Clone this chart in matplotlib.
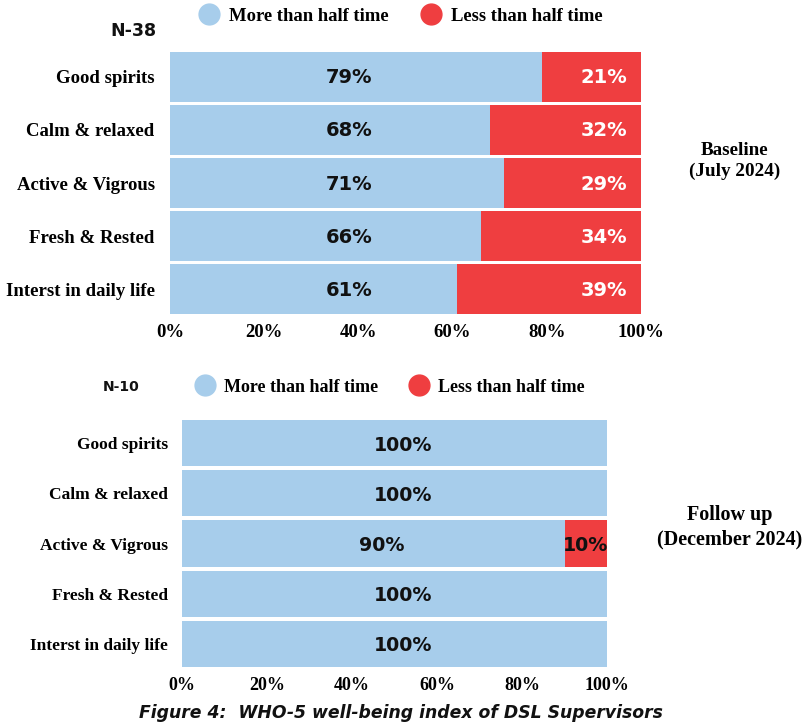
import matplotlib
matplotlib.use("Agg")
import matplotlib.pyplot as plt
from matplotlib.lines import Line2D

# WHO-5 items and survey results
items = ["Good spirits", "Calm & relaxed", "Active & Vigrous", "Fresh & Rested", "Interst in daily life"]
baseline_more = [79, 68, 71, 66, 61]
baseline_less = [21, 32, 29, 34, 39]
followup_more = [100, 100, 90, 100, 100]
followup_less = [0, 0, 10, 0, 0]
xticks = [0, 20, 40, 60, 80, 100]
xtick_labels = ["0%", "20%", "40%", "60%", "80%", "100%"]
series_names = ["More than half time", "Less than half time"]

BLUE = "#A7CDEB"
RED = "#EF3E40"
SERIF = "Liberation Serif"
SANS = "DejaVu Sans"

W, H = 809, 725
fig = plt.figure(figsize=(W / 100, H / 100), dpi=100)


def px_axes(left, top, right, bottom):
    return fig.add_axes([left / W, 1 - bottom / H, (right - left) / W, (bottom - top) / H])


def style_axes(ax, label_size, tick_size, pad):
    ax.set_xlim(0, 100)
    ax.set_ylim(len(items) - 0.5, -0.5)
    ax.set_yticks(range(len(items)))
    ax.set_yticklabels(items, fontfamily=SERIF, fontweight="bold", fontsize=label_size)
    ax.set_xticks(xticks)
    ax.set_xticklabels(xtick_labels, fontfamily=SERIF, fontweight="bold", fontsize=tick_size)
    ax.tick_params(axis="y", length=0, pad=pad)
    ax.tick_params(axis="x", length=0, pad=6)
    for s in ax.spines.values():
        s.set_visible(False)


# ---- Baseline panel ----
ax1 = px_axes(170, 50, 641, 316)
ys = range(len(items))
ax1.barh(ys, baseline_more, height=0.94, color=BLUE)
ax1.barh(ys, baseline_less, left=baseline_more, height=0.94, color=RED)
style_axes(ax1, 13.5, 13.5, 11)
for y, m, l in zip(ys, baseline_more, baseline_less):
    ax1.text(38, y + 0.02, f"{m}%", ha="center", va="center", fontfamily=SANS,
             fontweight="bold", fontsize=14, color="#111111")
    ax1.text(97, y + 0.02, f"{l}%", ha="right", va="center", fontfamily=SANS,
             fontweight="bold", fontsize=14, color="white")

# ---- Follow-up panel ----
ax2 = px_axes(182, 418, 607, 669)
ax2.barh(ys, followup_more, height=0.92, color=BLUE)
ax2.barh(ys, followup_less, left=followup_more, height=0.92, color=RED)
style_axes(ax2, 12.5, 13, 10)
for y, m, l in zip(ys, followup_more, followup_less):
    ax2.text(m / 2 + 2, y + 0.04, f"{m}%", ha="center", va="center", fontfamily=SANS,
             fontweight="bold", fontsize=13.7, color="#111111")
    if l > 0:
        ax2.text(m + l / 2, y + 0.04, f"{l}%", ha="center", va="center", fontfamily=SANS,
                 fontweight="bold", fontsize=13.7, color="#111111")


# ---- Legends, sample sizes and panel notes ----
def legend_at(x_px, y_px, size, textpad, colspace):
    handles = [Line2D([], [], marker="o", linestyle="", markersize=15,
                      markerfacecolor=c, markeredgecolor=c) for c in (BLUE, RED)]
    fig.legend(handles, series_names, loc="center left",
               bbox_to_anchor=(x_px / W, 1 - y_px / H), ncol=2, frameon=False,
               prop={"family": SERIF, "weight": "bold", "size": size},
               handletextpad=textpad, columnspacing=colspace, handlelength=1.1,
               borderpad=0, borderaxespad=0)


legend_at(199, 16, 13.4, 0.52, 1.73)
legend_at(195, 387, 13.0, 0.5, 1.7)

fig.text(157 / W, 1 - 31 / H, "N-38", ha="right", va="center", fontfamily=SANS,
         fontweight="bold", fontsize=12.5, color="#111111")
fig.text(140 / W, 1 - 387 / H, "N-10", ha="right", va="center", fontfamily=SANS,
         fontweight="bold", fontsize=10, color="#111111")

fig.text(735 / W, 1 - 161 / H, "Baseline\n(July 2024)", ha="center", va="center",
         fontfamily=SERIF, fontweight="bold", fontsize=13.8, linespacing=1.3)
fig.text(730 / W, 1 - 527 / H, "Follow up\n(December 2024)", ha="center", va="center",
         fontfamily=SERIF, fontweight="bold", fontsize=14.5, linespacing=1.3)

fig.text(401 / W, 1 - 713 / H, "Figure 4:  WHO-5 well-being index of DSL Supervisors",
         ha="center", va="center", fontfamily=SANS, fontweight="bold",
         fontstyle="italic", fontsize=12.4, color="#111111")

fig.savefig("out.png", dpi=100)
